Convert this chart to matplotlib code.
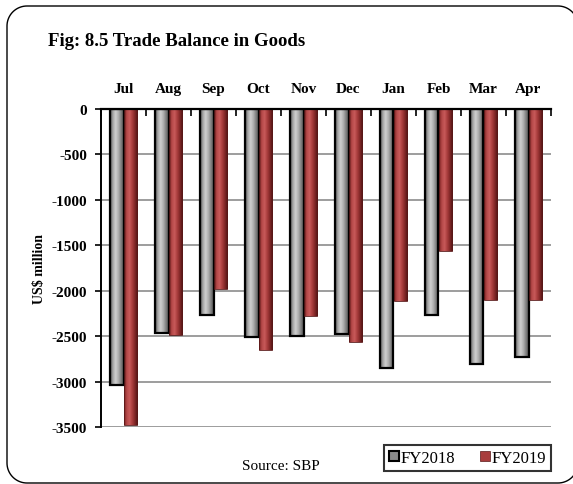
import numpy as np
import matplotlib
matplotlib.use("Agg")
import matplotlib.pyplot as plt
from matplotlib.colors import LinearSegmentedColormap
from matplotlib.patches import Patch
from matplotlib.lines import Line2D

# Donnees (US$ million)
months = ["Jul", "Aug", "Sep", "Oct", "Nov", "Dec", "Jan", "Feb", "Mar", "Apr"]
fy2018 = [-3040, -2465, -2262, -2505, -2498, -2480, -2850, -2262, -2804, -2730]
fy2019 = [-3478, -2485, -1980, -2650, -2280, -2566, -2115, -1558, -2107, -2107]
yticks = [0, -500, -1000, -1500, -2000, -2500, -3000, -3500]

plt.rcParams["font.family"] = ["Liberation Serif", "DejaVu Serif"]

# Degrades pour l'effet cylindre
grey_cmap = LinearSegmentedColormap.from_list(
    "grey3d", ["#505050", "#a4a4a4", "#cfcfcf", "#b0b0b0", "#808080", "#505050"])
red_cmap = LinearSegmentedColormap.from_list(
    "red3d", ["#7a2222", "#b44848", "#c85a5a", "#a83c3c", "#7e2626", "#4a1212"])
grad = np.linspace(0, 1, 64).reshape(1, -1)

W, H = 573, 485
fig = plt.figure(figsize=(W/100, H/100), dpi=100)
ax = fig.add_axes([101/W, 1-428/H, 450/W, 318/H])


# Cadre arrondi (pixels, y vers le bas) : trace ouvert, bord droit hors image
def Rounded_frame(x0, y0, x1, y1, r, n=20):
    def arc(cx, cy, a0, a1):
        a = np.radians(np.linspace(a0, a1, n))
        return cx + r*np.cos(a), cy + r*np.sin(a)
    parts = [arc(x1-r, y0+r, 0, -90), arc(x0+r, y0+r, -90, -180),
             arc(x0+r, y1-r, 180, 90), arc(x1-r, y1-r, 90, 0)]
    px = np.concatenate([p[0] for p in parts])
    py = np.concatenate([p[1] for p in parts])
    return px, py

bx, by = Rounded_frame(7, 7, 578, 484, 20)
fig.add_artist(Line2D(bx/W, 1-by/H, color="black", linewidth=1.0,
                      transform=fig.transFigure))

x = np.arange(len(months))
w = 0.3

for i in range(len(months)):
    ax.imshow(grad, extent=[x[i]-w, x[i], fy2018[i], 0], aspect="auto",
              cmap=grey_cmap, zorder=3, interpolation="bilinear")
    ax.imshow(grad, extent=[x[i], x[i]+w, fy2019[i], 0], aspect="auto",
              cmap=red_cmap, zorder=3, interpolation="bilinear")

ax.bar(x - w/2, fy2018, width=w, facecolor="none", edgecolor="black",
       linewidth=1.6, zorder=4)
ax.bar(x + w/2, fy2019, width=w, facecolor="none", edgecolor="#5a1818",
       linewidth=0.6, zorder=4)

ax.set_xlim(-0.5, len(months)-0.5)
ax.set_ylim(-3500, 0)

# Axe des x en haut
ax.xaxis.tick_top()
ax.set_xticks(np.arange(len(months)+1) - 0.5)
ax.set_xticklabels([])
ax.set_xticks(x, minor=True)
ax.set_xticklabels(months, minor=True, fontsize=11, fontweight="bold")
for lab in ax.get_xticklabels(minor=True):
    lab.set_va("baseline")
ax.tick_params(axis="x", which="major", direction="in", length=5, width=1.2)
ax.tick_params(axis="x", which="minor", length=0, pad=12)

ax.set_yticks(yticks)
ax.set_yticklabels([str(v) for v in yticks], fontsize=11, fontweight="bold")
ax.tick_params(axis="y", direction="out", length=4, width=1.2, pad=6)

ax.grid(axis="y", color="#8c8c8c", linewidth=1.2, zorder=0)
ax.set_axisbelow(True)
for s in ["right", "bottom"]:
    ax.spines[s].set_visible(False)
ax.spines["left"].set_linewidth(1.4)
ax.spines["top"].set_linewidth(1.6)
ax.spines["top"].set_zorder(5)

ax.set_ylabel("US$ million", fontsize=10, fontweight="bold", labelpad=4)

fig.text(48/W, 1-42/H, "Fig: 8.5 Trade Balance in Goods", fontsize=13.5,
         fontweight="bold", va="center", ha="left")
fig.text(281/W, 1-467/H, "Source: SBP", fontsize=11, va="center", ha="center")

handles = [Patch(facecolor="#8a8a8a", edgecolor="black", linewidth=1.5),
           Patch(facecolor="#a83c3c", edgecolor="#5a1818", linewidth=0.5)]
leg = fig.legend(handles, ["FY2018", "FY2019"], loc="upper right",
                 bbox_to_anchor=(551/W, 1-446/H), ncol=2, fontsize=12,
                 frameon=True, fancybox=False, handlelength=0.6,
                 handleheight=0.6, handletextpad=0.1, columnspacing=1.5,
                 borderpad=0.3, borderaxespad=0)
leg.get_frame().set_edgecolor("black")
leg.get_frame().set_linewidth(1.5)

fig.savefig("out.png", dpi=100)
